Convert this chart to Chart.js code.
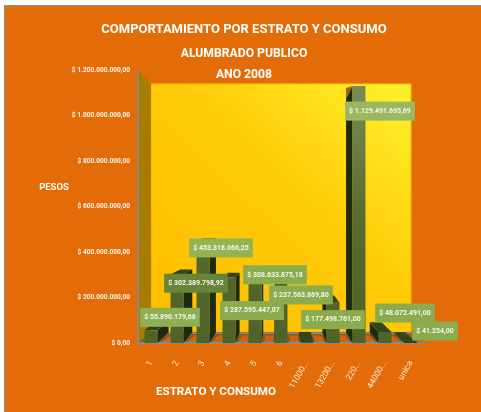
<!DOCTYPE html>
<html>
<head>
<meta charset="utf-8">
<style>
  html, body { margin: 0; padding: 0; background: #fff; }
  #chartBox { position: relative; width: 481px; height: 412px; }
</style>
<script src="https://cdn.jsdelivr.net/npm/chart.js@4"></script>
</head>
<body>
<div id="chartBox"><canvas id="estratoChart" width="481" height="412"></canvas></div>
<script>
const categories = ['1', '2', '3', '4', '5', '6', '11000...', '13200...', '220...', '44000...', 'unica'];
const pesos = [55890179.68, 302389798.92, 453318066.25, 287595447.07, 308633875.18, 237563869.80, 1000000, 177498761.00, 1129491695.69, 48072491.00, 41254.00];
const yTicks = [0, 200000000, 400000000, 600000000, 800000000, 1000000000, 1200000000];

// where each value box sits relative to the top of its bar (null = no box)
const boxShiftX = [19, 19, 18, 23, 20, 20, null, 0, 21, 20, 24];
const boxShiftY = [-13, 9, 8, 33, 2, 6, null, 17, 25, -19, -12];
const boxColors = ['#8fae55', '#67843a', '#94b352', '#8bab4f', '#8bab4f', '#8bab4f', null, '#8bab4f', '#9bb760', '#8bab4f', '#8bab4f'];

const textFont = 'Roboto, "Liberation Sans", Arial, sans-serif';

function pesosText(v) {
  const parts = v.toFixed(2).split('.');
  const whole = parts[0].replace(/\B(?=(\d{3})+$)/g, '.');
  return '$ ' + whole + ',' + parts[1];
}

// fake perspective: everything recedes towards one point behind the plot
const depth = 0.09;
function back(x, y, area) {
  const vx = area.left + (area.right - area.left) / 2;
  const vy = area.top + (area.bottom - area.top) * 0.56;
  return [x + (vx - x) * depth, y + (vy - y) * depth];
}

function poly(ctx, pts, fill) {
  ctx.beginPath();
  pts.forEach((p, i) => i ? ctx.lineTo(p[0], p[1]) : ctx.moveTo(p[0], p[1]));
  ctx.closePath();
  ctx.fillStyle = fill;
  ctx.fill();
}

const backdrop = {
  id: 'backdrop',
  beforeDraw(chart) {
    const ctx = chart.ctx;
    ctx.save();
    ctx.fillStyle = '#8d9196';
    ctx.fillRect(4, 5, 477, 407);
    ctx.fillStyle = '#e36c09';
    ctx.fillRect(5, 6, 476, 406);
    ctx.restore();
  }
};

const room = {
  id: 'room',
  beforeDatasetsDraw(chart) {
    const ctx = chart.ctx, a = chart.chartArea, xs = chart.scales.x;
    const tl = back(a.left, a.top, a), tr = back(a.right, a.top, a);
    const bl = back(a.left, a.bottom, a), br = back(a.right, a.bottom, a);
    ctx.save();

    // back wall
    const wall = ctx.createLinearGradient(bl[0] + 60, bl[1], tr[0], tr[1] + 30);
    wall.addColorStop(0, '#ffc000');
    wall.addColorStop(0.55, '#ffcb08');
    wall.addColorStop(1, '#ffee28');
    poly(ctx, [tl, tr, br, bl], wall);
    ctx.strokeStyle = '#f7a800';
    ctx.lineWidth = 1;
    ctx.strokeRect(tl[0], tl[1], tr[0] - tl[0], bl[1] - tl[1]);

    // left wall
    poly(ctx, [[a.left, a.top], tl, bl, [a.left, a.bottom]], '#a87c00');

    // floor with a lit strip between the bars
    poly(ctx, [[a.left, a.bottom], bl, br, [a.right, a.bottom]], '#7c5a34');
    const step = xs.getPixelForValue(1) - xs.getPixelForValue(0);
    categories.forEach((c, i) => {
      const mid = xs.getPixelForValue(i) + step / 2;
      const l = mid - 4, r = mid + 5;
      const lb = back(l, a.bottom, a), rb = back(r, a.bottom, a);
      poly(ctx, [[l, a.bottom], [lb[0], lb[1] + 3], [rb[0], rb[1] + 3], [r, a.bottom]], '#d4610c');
    });

    // axis edges
    ctx.strokeStyle = '#8a8a82';
    ctx.lineWidth = 2;
    ctx.beginPath();
    ctx.moveTo(a.left, a.top);
    ctx.lineTo(a.left, a.bottom);
    ctx.lineTo(a.right + 2, a.bottom);
    ctx.stroke();
    ctx.lineWidth = 1.5;
    ctx.beginPath();
    ctx.moveTo(bl[0], bl[1] + 1);
    ctx.lineTo(br[0], br[1] + 1);
    ctx.stroke();

    // side and top of every bar
    chart.getDatasetMeta(0).data.forEach(bar => {
      const half = bar.width / 2;
      const left = bar.x - half, right = bar.x + half;
      const sideX = bar.x < (a.left + a.right) / 2 ? right : left;
      const s1 = back(sideX, bar.y, a), s2 = back(sideX, a.bottom, a);
      poly(ctx, [[sideX, bar.y], s1, s2, [sideX, a.bottom]], '#1f2b10');
      const t1 = back(left, bar.y, a), t2 = back(right, bar.y, a);
      if (t1[1] < bar.y) {
        poly(ctx, [[left, bar.y], t1, t2, [right, bar.y]], '#33451a');
      } else if (sideX === left) {
        // tall bar: the far corner shows through at the top
        poly(ctx, [[left, bar.y], s1, [s1[0], bar.y + 2]], '#a85a10');
      }
    });
    ctx.restore();
  }
};

const valueBoxes = {
  id: 'valueBoxes',
  afterDatasetsDraw(chart) {
    const ctx = chart.ctx;
    ctx.save();
    ctx.font = 'bold 7px ' + textFont;
    ctx.textAlign = 'center';
    ctx.textBaseline = 'middle';
    chart.getDatasetMeta(0).data.forEach((bar, i) => {
      if (boxShiftX[i] === null) return;
      const cx = bar.x + boxShiftX[i], cy = bar.y + boxShiftY[i];
      const txt = pesosText(pesos[i]);
      const w = ctx.measureText(txt).width + 8;
      ctx.fillStyle = boxColors[i];
      ctx.fillRect(cx - w / 2, cy - 9.5, w, 19);
      ctx.fillStyle = '#f4f7ea';
      ctx.fillText(txt, cx, cy);
    });
    ctx.restore();
  }
};

const axisNames = {
  id: 'axisNames',
  afterDraw(chart) {
    const ctx = chart.ctx;
    ctx.save();
    ctx.fillStyle = '#ffffff';
    ctx.textAlign = 'center';
    ctx.textBaseline = 'middle';
    ctx.font = 'bold 9.5px ' + textFont;
    ctx.fillText('PESOS', 54, 188);
    ctx.font = 'bold 11.6px ' + textFont;
    ctx.fillText('ESTRATO Y CONSUMO', 216, 392);
    ctx.restore();
  }
};

function barFill(context) {
  const a = context.chart.chartArea;
  if (!a) return '#4f6228';
  const g = context.chart.ctx.createLinearGradient(0, a.bottom, 0, a.top);
  g.addColorStop(0, '#4f6228');
  g.addColorStop(0.45, '#566b2e');
  g.addColorStop(1, '#7c8f5c');
  return g;
}

new Chart(document.getElementById('estratoChart'), {
  type: 'bar',
  data: {
    labels: categories,
    datasets: [{
      label: 'Pesos',
      data: pesos,
      backgroundColor: barFill,
      barPercentage: 0.5,
      categoryPercentage: 1
    }]
  },
  plugins: [backdrop, room, valueBoxes, axisNames],
  options: {
    responsive: false,
    animation: false,
    layout: { padding: { left: 64, right: 57, top: 0, bottom: 0 } },
    plugins: {
      legend: { display: false },
      tooltip: { enabled: false },
      title: {
        display: true,
        text: 'COMPORTAMIENTO POR ESTRATO Y CONSUMO',
        color: '#ffffff',
        font: { family: textFont, size: 13, weight: 'bold', lineHeight: 1.2 },
        padding: { top: 22, bottom: 6 }
      },
      subtitle: {
        display: true,
        text: ['ALUMBRADO PUBLICO', 'ANO 2008'],
        color: '#ffffff',
        font: { family: textFont, size: 12.2, weight: 'bold', lineHeight: 1.72 },
        padding: { top: 0, bottom: -15.5 }
      }
    },
    scales: {
      x: {
        grid: { display: false },
        border: { display: false },
        afterFit(scale) { scale.height = 69; },
        ticks: {
          autoSkip: false,
          minRotation: 60,
          maxRotation: 60,
          padding: 8,
          color: '#ffe9d6',
          font: { family: textFont, size: 8.5 }
        }
      },
      y: {
        min: 0,
        max: 1200000000,
        afterFit(scale) { scale.width = 74; },
        afterBuildTicks(scale) { scale.ticks = yTicks.map(v => ({ value: v })); },
        grid: { display: false },
        border: { display: false },
        ticks: {
          padding: 0,
          color: '#fff4e8',
          font: { family: textFont, size: 6.6, weight: 'bold' },
          callback: v => v === 0 ? '$ 0,00' : pesosText(v)
        }
      }
    }
  }
});
</script>
</body>
</html>
